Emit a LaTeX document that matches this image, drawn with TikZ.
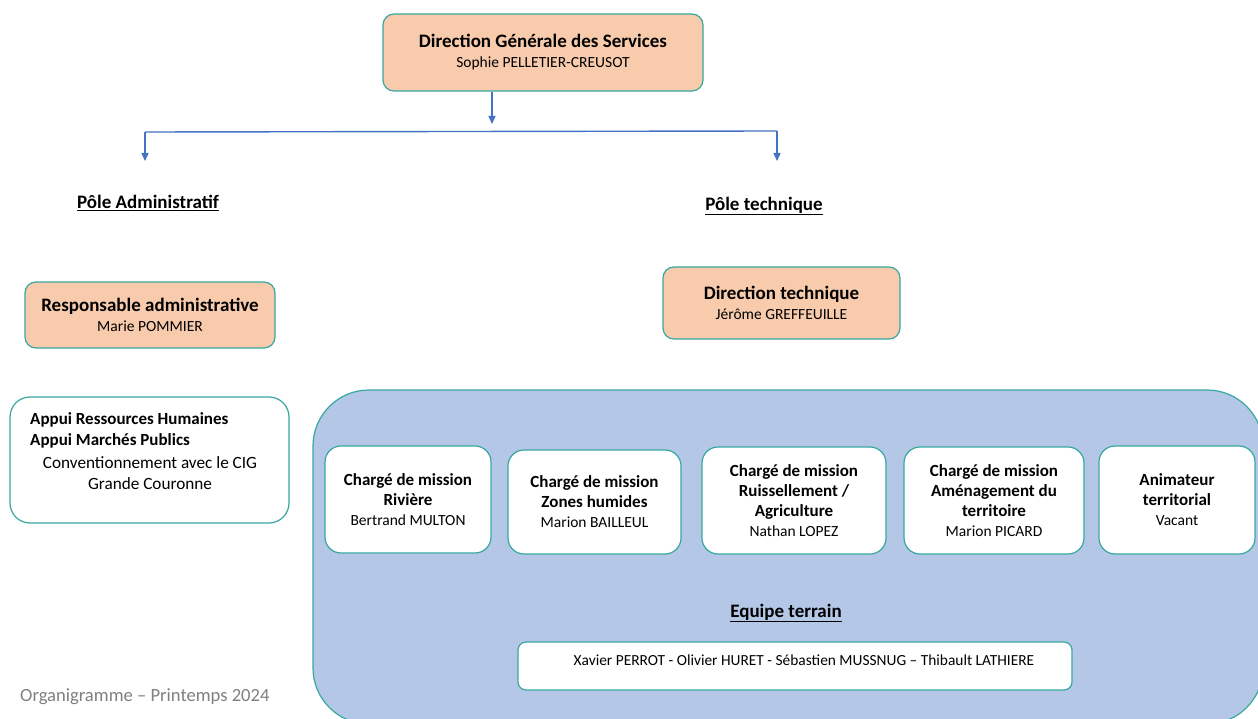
\documentclass[tikz,border=0pt]{standalone}
\usepackage{fontspec}
\setmainfont{Carlito}
\usetikzlibrary{arrows.meta}
\definecolor{peach}{RGB}{248,203,173}
\definecolor{bordc}{RGB}{55,168,160}
\definecolor{bluefill}{RGB}{180,199,231}
\definecolor{arrowc}{RGB}{68,114,196}
\definecolor{footc}{RGB}{128,128,128}
\newcommand\ttl[1]{{\fontsize{19}{21}\selectfont\bfseries #1}}
\newcommand\sttl[1]{{\fontsize{17}{20.5}\selectfont\bfseries #1}}
\newcommand\nm[1]{{\fontsize{15.5}{20}\selectfont #1}}
\tikzset{
  box/.style={draw=bordc, line width=1.2pt, rounded corners=11pt, align=center, inner sep=0pt, font=\fontsize{15}{20}\selectfont},
  peachbox/.style={box, fill=peach},
  whitebox/.style={box, fill=white, rounded corners=16pt},
  conn/.style={draw=arrowc, line width=1.4pt},
  arr/.style={conn, -{Triangle[width=7pt,length=8pt]}},
  pole/.style={font=\fontsize{19}{22}\selectfont\bfseries, inner sep=0pt}
}
\begin{document}
\begin{tikzpicture}[x=1pt,y=-1pt]
\useasboundingbox (0,0) rectangle (1258,719);
\clip (0,0) rectangle (1258,719);
\fill[white] (0,0) rectangle (1258,719);

% big blue area
\draw[draw=bordc, line width=1.2pt, fill=bluefill, rounded corners=56pt] (313,390) rectangle (1263,724);

% top
\node[peachbox, minimum width=320pt, minimum height=77pt] (dgs) at (543,52.5)
  {\ttl{Direction Générale des Services}\\\nm{Sophie PELLETIER-CREUSOT}};
\coordinate (j) at (492,124);
\coordinate (jl) at (145,132);
\coordinate (jr) at (777,131);
\coordinate (pl) at (145,161);
\coordinate (pr) at (777,161);
\draw[arr] (dgs.south -| j) -- (j);
\draw[conn] (jl) -- (jr);
\draw[arr] (jl) -- (pl);
\draw[arr] (jr) -- (pr);

\node[pole] (padm) at (148,203) {\underline{Pôle Administratif}};
\node[pole] (ptech) at (764,206) {\underline{Pôle technique}};

% left column
\node[peachbox, minimum width=250pt, minimum height=66pt] (ra) at (150,315)
  {\ttl{Responsable administrative}\\\nm{Marie POMMIER}};
\node[whitebox, rounded corners=20pt, minimum width=279pt, minimum height=126pt] (appui) at (149.5,460) {};
\node[anchor=west, inner sep=0pt, font=\fontsize{17}{20}\selectfont\bfseries] (a1) at (30,420) {Appui Ressources Humaines};
\node[anchor=west, inner sep=0pt, font=\fontsize{17}{20}\selectfont\bfseries] (a2) at (30,441) {Appui Marchés Publics};
\node[inner sep=0pt, font=\fontsize{17.2}{20}\selectfont] (a3) at (150,463) {Conventionnement avec le CIG};
\node[inner sep=0pt, font=\fontsize{17.2}{20}\selectfont] (a4) at (150,484) {Grande Couronne};

% right column
\node[peachbox, minimum width=237pt, minimum height=72pt] (dt) at (781.5,303)
  {\ttl{Direction technique}\\\nm{Jérôme GREFFEUILLE}};

\node[whitebox, minimum width=166pt, minimum height=107pt] (c1) at (408,499.5)
  {\sttl{Chargé de mission}\\\sttl{Rivière}\\\nm{Bertrand MULTON}};
\node[whitebox, minimum width=173pt, minimum height=104pt] (c2) at (594.5,502)
  {\sttl{Chargé de mission}\\\sttl{Zones humides}\\\nm{Marion BAILLEUL}};
\node[whitebox, minimum width=184pt, minimum height=107pt] (c3) at (794,500.5)
  {\sttl{Chargé de mission}\\\sttl{Ruissellement /}\\\sttl{Agriculture}\\\nm{Nathan LOPEZ}};
\node[whitebox, minimum width=180pt, minimum height=107pt] (c4) at (994,500.5)
  {\sttl{Chargé de mission}\\\sttl{Aménagement du}\\\sttl{territoire}\\\nm{Marion PICARD}};
\node[whitebox, minimum width=156pt, minimum height=108pt] (c5) at (1177,500)
  {\sttl{Animateur}\\\sttl{territorial}\\\nm{Vacant}};

\node[pole] (eq) at (786,613) {\underline{Equipe terrain}};
\node[box, fill=white, rounded corners=8pt, minimum width=554pt, minimum height=48pt] (team) at (795,666) {};
\node[inner sep=0pt, font=\fontsize{15.4}{18}\selectfont] (teamtxt) at (804,660)
  {Xavier PERROT - Olivier HURET - Sébastien MUSSNUG – Thibault LATHIERE};

\node[anchor=west, inner sep=0pt, text=footc, font=\fontsize{18.6}{20}\selectfont] (foot) at (20,697) {Organigramme – Printemps 2024};
\end{tikzpicture}
\end{document}
